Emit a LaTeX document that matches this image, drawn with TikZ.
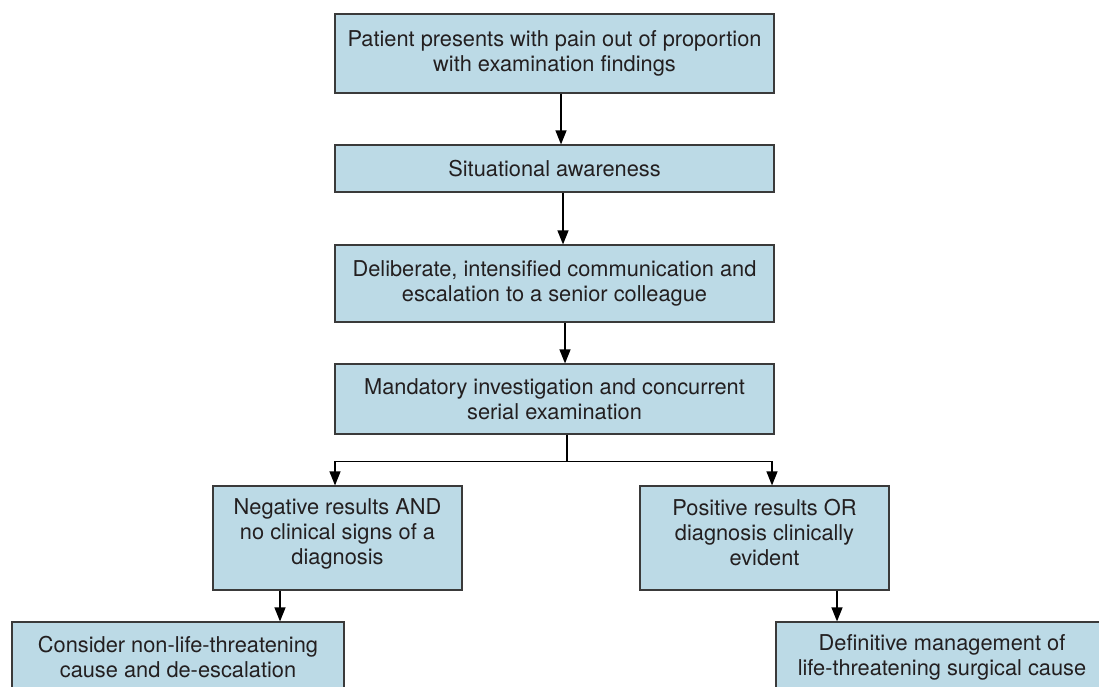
\documentclass[tikz,border=0pt]{standalone}
\usepackage{fontspec}
\setmainfont{TeX Gyre Heros}
\usetikzlibrary{arrows.meta}
\definecolor{boxfill}{HTML}{BCDAE6}
\definecolor{boxline}{HTML}{3A3A3A}
\definecolor{txt}{HTML}{231F20}
\tikzset{
  flowbox/.style={draw=boxline, line width=1.2pt, fill=boxfill, text=txt, align=center,
    font=\fontsize{21.8}{25}\selectfont, inner sep=0pt},
  conn/.style={draw=black, line width=1.2pt, -{Triangle[length=14pt,width=11pt]}},
  plain/.style={draw=black, line width=1.2pt}
}
\begin{document}
\begin{tikzpicture}[x=1pt,y=-1pt]
\useasboundingbox (0,0) rectangle (1099,686);
\clip (0,0) rectangle (1099,686);
\node[flowbox, minimum width=439pt, minimum height=79pt] (b1) at (554.5,53.5)
  {Patient presents with pain out of proportion\\with examination findings};
\node[flowbox, minimum width=439pt, minimum height=47pt] (b2) at (554.5,168.5)
  {Situational awareness};
\node[flowbox, minimum width=439pt, minimum height=77pt] (b3) at (554.5,283.5)
  {Deliberate, intensified communication and\\escalation to a senior colleague};
\node[flowbox, minimum width=439pt, minimum height=70pt] (b4) at (554.5,399)
  {Mandatory investigation and concurrent\\serial examination};
\node[flowbox, minimum width=249pt, minimum height=104pt] (b5) at (337.5,538)
  {Negative results AND\\no clinical signs of a\\diagnosis\\[-13pt]};
\node[flowbox, minimum width=249pt, minimum height=104pt] (b6) at (764.5,538)
  {Positive results OR\\diagnosis clinically\\evident\\[-13pt]};
\node[flowbox, minimum width=332pt, minimum height=70pt] (b7) at (178,657)
  {Consider non-life-threatening\\cause and de-escalation};
\node[flowbox, minimum width=332pt, minimum height=70pt] (b8) at (942,657)
  {Definitive management of\\life-threatening surgical cause};
\draw[conn] ([xshift=6.5pt]b1.south) -- ([xshift=6.5pt]b2.north);
\draw[conn] ([xshift=8.5pt]b2.south) -- ([xshift=8.5pt]b3.north);
\draw[conn] ([xshift=10.5pt]b3.south) -- ([xshift=10.5pt]b4.north);
\coordinate (j) at ([xshift=12.5pt,yshift=-27pt]b4.south);
\draw[plain] ([xshift=12.5pt]b4.south) -- (j);
\draw[conn] (j) -| (b5.north -| 335,0);
\draw[conn] (j) -| (b6.north -| 772,0);
\draw[conn] (b5.south -| 280,0) -- (b7.north -| 280,0);
\draw[conn] (b6.south -| 837,0) -- (b8.north -| 837,0);
\end{tikzpicture}
\end{document}
